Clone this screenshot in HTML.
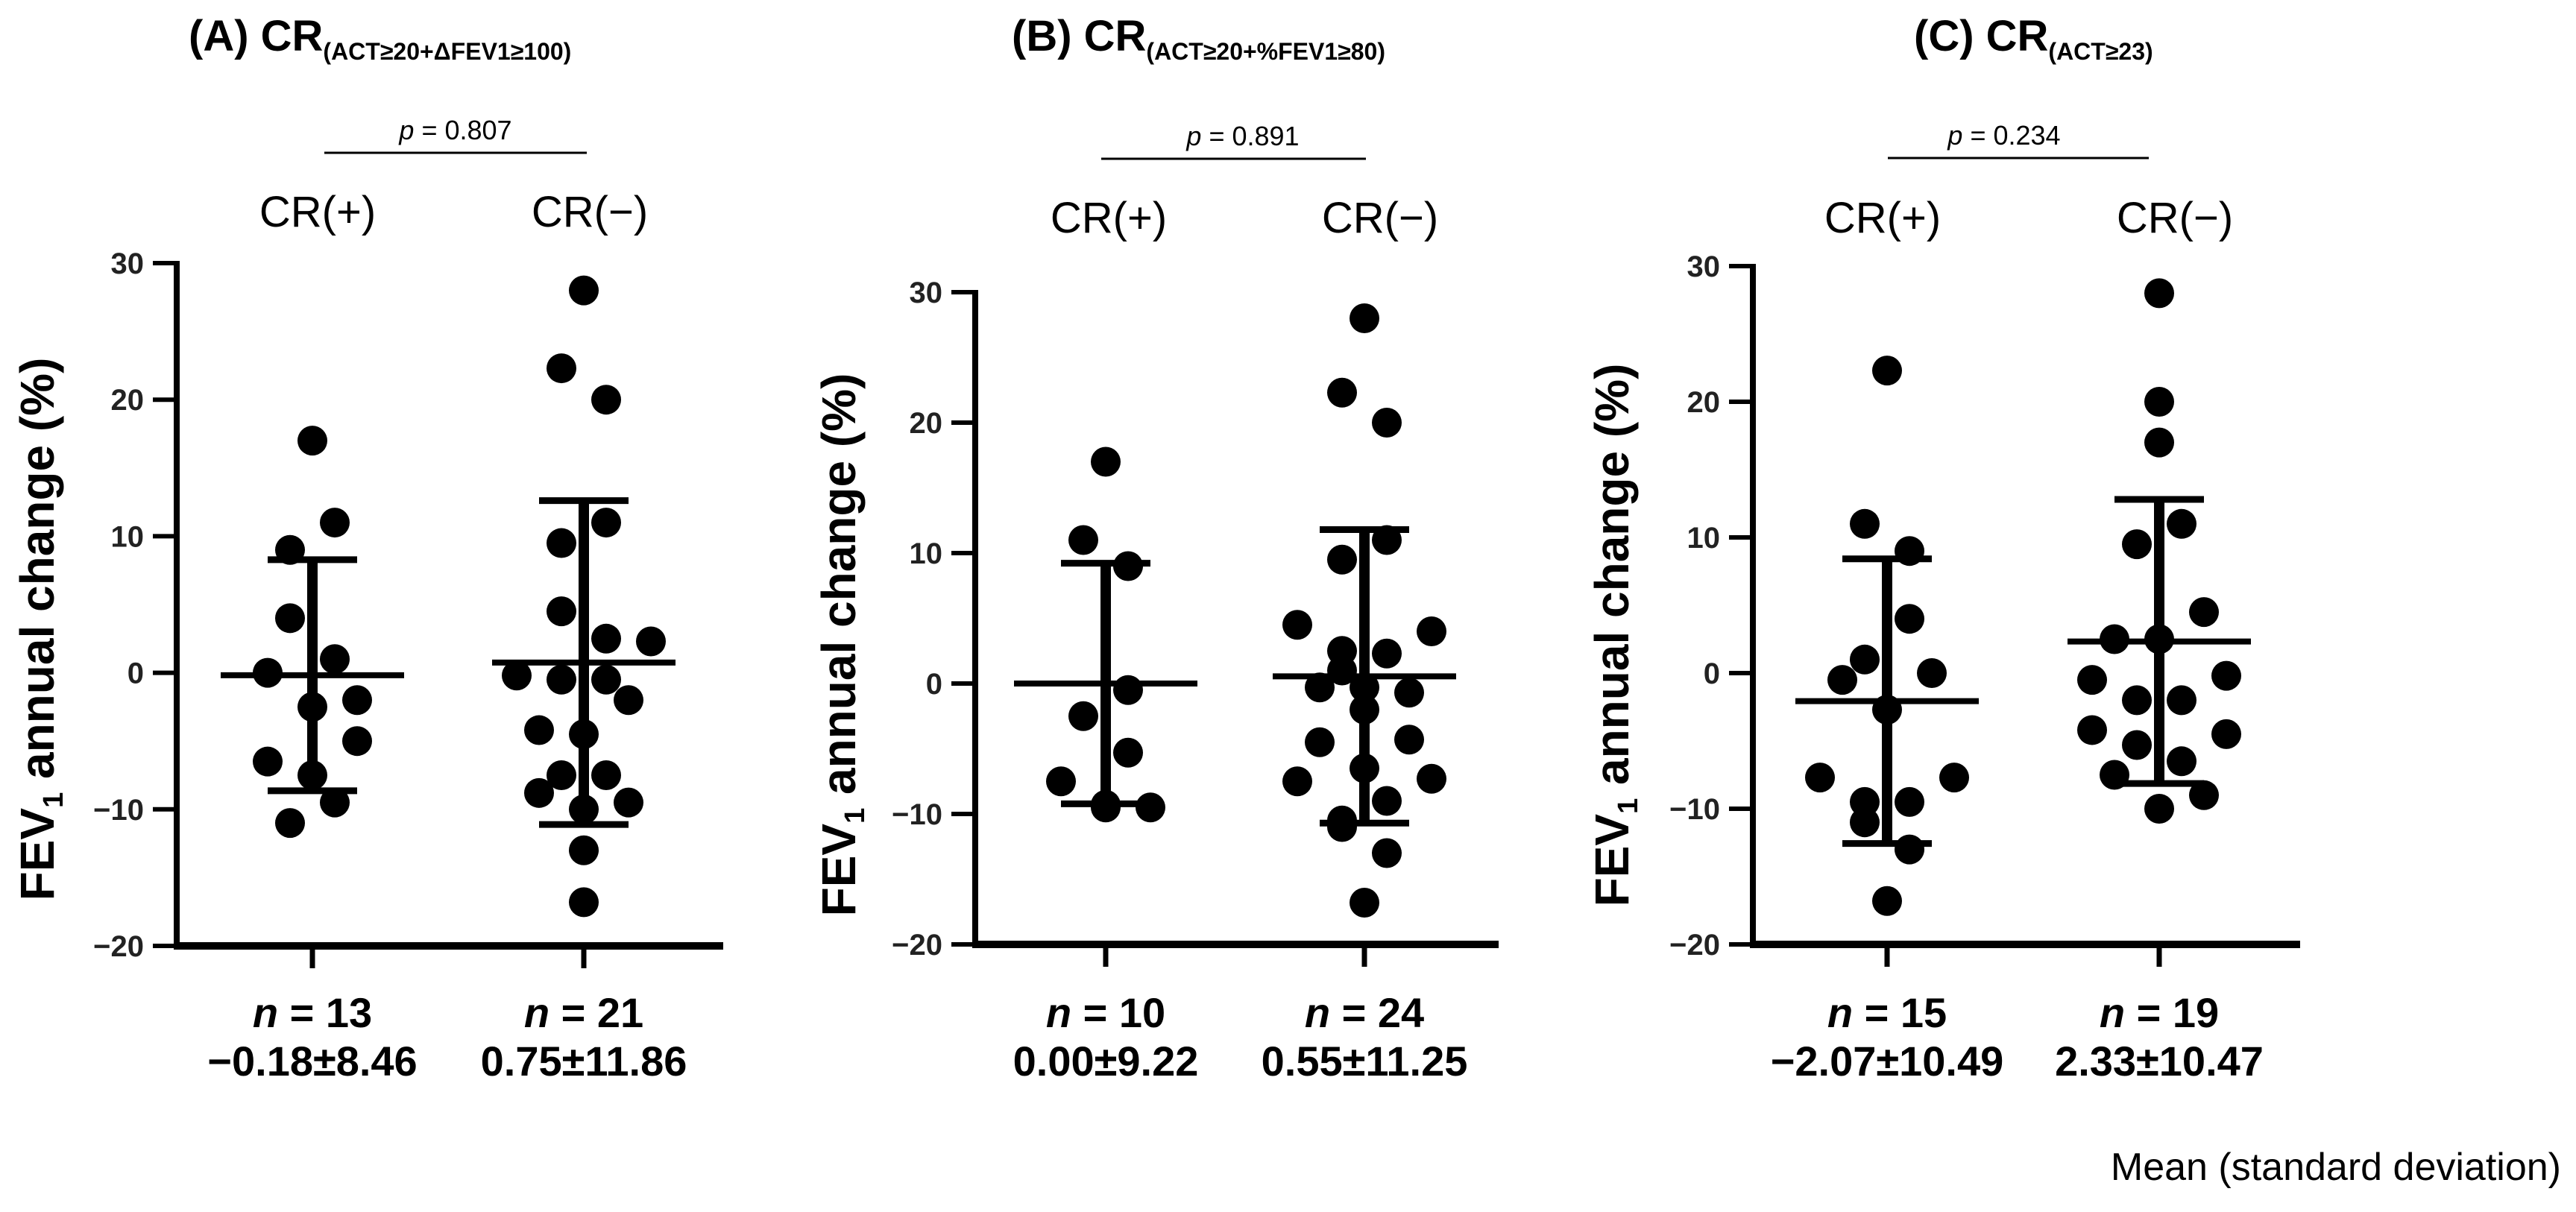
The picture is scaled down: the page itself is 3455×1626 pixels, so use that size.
<!DOCTYPE html>
<html><head><meta charset="utf-8"><style>
html,body{margin:0;padding:0;background:#fff;}
svg{display:block;font-family:"Liberation Sans",Arial,sans-serif;}
</style></head><body>
<svg id="chart" width="3455" height="1626" viewBox="0 0 3455 1626" xmlns="http://www.w3.org/2000/svg"></svg>
<script>
const yTicks = [30, 20, 10, 0, -10, -20];
const groupLabels = ["CR(+)", "CR(\u2212)"];
const aPosVals = [17, 11, 9, 4, 1, 0, -2.5, -2, -5, -6.5, -7.5, -9.5, -11];
const aPosJit = [0, 1, -1, -1, 1, -2, 0, 2, 2, -2, 0, 1, -1];
const aNegVals = [28, 22.3, 20, 11, 9.5, 4.5, 2.5, 2.3, -0.2, -0.5, -0.5, -2, -4.2, -4.5, -7.5, -7.5, -8.8, -9.5, -10, -13, -16.8];
const aNegJit = [0, -1, 1, 1, -1, -1, 1, 3, -3, -1, 1, 2, -2, 0, -1, 1, -2, 2, 0, 0, 0];
const bPosVals = [17, 11, 9, -0.5, -2.5, -5.3, -7.5, -9.5, -9.5, -9.3];
const bPosJit = [0, -1, 1, 1, -1, 1, -2, 0, 2, 0];
const bNegVals = [28, 22.3, 20, 11, 9.5, 4.5, 4, 2.5, 2.3, 1, -0.3, -0.3, -0.7, -2, -4.5, -4.3, -6.5, -7.5, -7.3, -9, -10.5, -11, -13, -16.8];
const bNegJit = [0, -1, 1, 1, -1, -3, 3, -1, 1, -1, -2, 0, 2, 0, -2, 2, 0, -3, 3, 1, -1, -1, 1, 0];
const cPosVals = [22.3, 11, 9, 4, 1, -0.5, 0, -2.7, -7.7, -7.7, -9.5, -9.5, -11, -13, -16.8];
const cPosJit = [0, -1, 1, 1, -1, -2, 2, 0, -3, 3, -1, 1, -1, 1, 0];
const cNegVals = [28, 20, 17, 11, 9.5, 4.5, 2.5, 2.5, -0.5, -0.2, -2, -2, -4.2, -4.5, -5.3, -6.5, -7.5, -9, -10];
const cNegJit = [0, 0, 0, 1, -1, 2, -2, 0, -3, 3, -1, 1, -3, 3, -1, 1, -2, 2, 0];
const means = [[-0.18, 0.75], [0.00, 0.55], [-2.07, 2.33]];
const sds = [[8.46, 11.86], [9.22, 11.25], [10.49, 10.47]];
const nCounts = [[13, 21], [10, 24], [15, 19]];
const meanText = [["\u22120.18\u00b18.46", "0.75\u00b111.86"], ["0.00\u00b19.22", "0.55\u00b111.25"], ["\u22122.07\u00b110.49", "2.33\u00b110.47"]];
const pValues = ["0.807", "0.891", "0.234"];
const titles = [["(A) CR", "(ACT\u226520+\u0394FEV1\u2265100)"], ["(B) CR", "(ACT\u226520+%FEV1\u226580)"], ["(C) CR", "(ACT\u226523)"]];

const panels = [
 {ax:237, top:353, bot:1269, xend:970, c:[419,783], crx:[426,791], tx:253, px:611, py:205, pl:[435,787], cry:304, ytx:48, yty:844, vals:[aPosVals,aNegVals], jit:[aPosJit,aNegJit]},
 {ax:1308, top:392, bot:1267, xend:2010, c:[1483,1830], crx:[1487,1851], tx:1357, px:1667, py:213, pl:[1477,1832], cry:312, ytx:1123, yty:865, vals:[bPosVals,bNegVals], jit:[bPosJit,bNegJit]},
 {ax:2351, top:357, bot:1267, xend:3085, c:[2531,2896], crx:[2525,2917], tx:2567, px:2688, py:212, pl:[2532,2882], cry:312, ytx:2160, yty:852, vals:[cPosVals,cNegVals], jit:[cPosJit,cNegJit]}
];
const NS = "http://www.w3.org/2000/svg";
const svg = document.getElementById('chart');
function mk(tag, attrs, parent, text){
  const e = document.createElementNS(NS, tag);
  for (const k in attrs) e.setAttribute(k, attrs[k]);
  if (text !== undefined) e.textContent = text;
  (parent||svg).appendChild(e);
  return e;
}
const JIT = 30;
panels.forEach((p, i) => {
  const yScale = v => p.top + (30 - v) / 50 * (p.bot - p.top);
  const g = mk('g', {});
  
  
  const t = mk('text', {x:p.tx, y:68, 'font-size':58, 'font-weight':'bold'}, g);
  
  
  mk('tspan', {}, t, titles[i][0]);
  mk('tspan', {'font-size':32, dy:12}, t, titles[i][1]);
  const pt = mk('text', {x:p.px, y:p.py-18, 'font-size':36, 'text-anchor':'middle'}, g);
  
  
  mk('tspan', {'font-style':'italic'}, pt, 'p');
  mk('tspan', {}, pt, ' = ' + pValues[i]);
  const pl = mk('line', {x1:p.pl[0], x2:p.pl[1], y1:p.py, y2:p.py, stroke:'#000', 'stroke-width':3}, g);
  
  
  const ya = mk('line', {x1:p.ax, x2:p.ax, y1:p.top-3, y2:p.bot+4, stroke:'#000', 'stroke-width':8}, g);
  
  
  const xa = mk('line', {x1:p.ax-4, x2:p.xend, y1:p.bot, y2:p.bot, stroke:'#000', 'stroke-width':10}, g);
  
  
  yTicks.forEach(v => {
    const y = yScale(v);
    const tk = mk('line', {x1:p.ax-32, x2:p.ax, y1:y, y2:y, stroke:'#000', 'stroke-width':6}, g);
    
    
    const tl = mk('text', {x:p.ax-44, y:y+14, 'font-size':40, 'font-weight':'bold', 'text-anchor':'end', fill:'#222'}, g, v < 0 ? '\u2212' + (-v) : String(v));
    
    
  });
  const yt = mk('text', {x:0, y:0, 'font-size':64, 'font-weight':'bold', 'text-anchor':'middle', transform:'translate(' + (p.ytx+24) + ',' + p.yty + ') rotate(-90)'}, g);
  
  
  mk('tspan', {}, yt, 'FEV');
  mk('tspan', {'font-size':38, dy:12}, yt, '1');
  mk('tspan', {dy:-12}, yt, ' annual change (%)');
  [0, 1].forEach(k => {
    const cx = p.c[k];
    const tk = mk('line', {x1:cx, x2:cx, y1:p.bot, y2:p.bot+30, stroke:'#000', 'stroke-width':7}, g);
    
    
    const gl = mk('text', {x:p.crx[k], y:p.cry, 'font-size':58, 'text-anchor':'middle'}, g, groupLabels[k]);
    
    
    const nl = mk('text', {x:cx, y:1378, 'font-size':56, 'font-weight':'bold', 'text-anchor':'middle'}, g);
    
    
    mk('tspan', {'font-style':'italic'}, nl, 'n');
    mk('tspan', {}, nl, ' = ' + nCounts[i][k]);
    const ml = mk('text', {x:cx, y:1443, 'font-size':56, 'font-weight':'bold', 'text-anchor':'middle'}, g, meanText[i][k]);
    
    
    p.vals[k].forEach((v, j) => {
      const d = mk('circle', {cx:cx + p.jit[k][j]*JIT, cy:yScale(v), r:20, fill:'#000'}, g);
      
      
    });
    const m = means[i][k], s = sds[i][k];
    const ml2 = mk('line', {x1:cx-123, x2:cx+123, y1:yScale(m), y2:yScale(m), stroke:'#000', 'stroke-width':8}, g);
    
    
    const eb = mk('line', {x1:cx, x2:cx, y1:yScale(m+s), y2:yScale(m-s), stroke:'#000', 'stroke-width':14}, g);
    
    
    [m+s, m-s].forEach(cv => {
      const cp = mk('line', {x1:cx-60, x2:cx+60, y1:yScale(cv), y2:yScale(cv), stroke:'#000', 'stroke-width':9}, g);
      
      
    });
  });
});
const note = mk('text', {x:3435, y:1583, 'font-size':52, 'text-anchor':'end'}, svg, 'Mean (standard deviation)');


</script>
</body></html>
